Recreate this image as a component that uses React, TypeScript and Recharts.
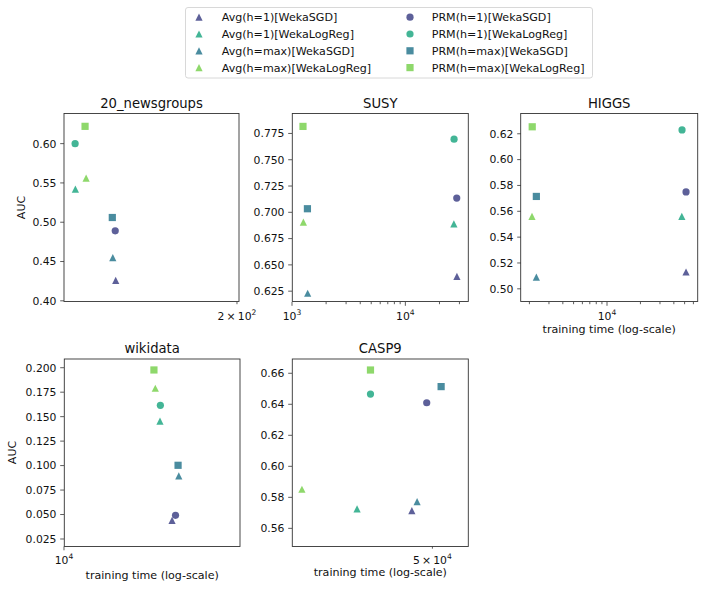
import React from "react";
import { ScatterChart, Scatter, XAxis, YAxis } from "recharts";

// series order: 4 Avg variants (triangles) then PRM variants
const seriesNames = [
  "Avg(h=1)[WekaSGD]",
  "Avg(h=1)[WekaLogReg]",
  "Avg(h=max)[WekaSGD]",
  "Avg(h=max)[WekaLogReg]",
  "PRM(h=1)[WekaSGD]",
  "PRM(h=1)[WekaLogReg]",
  "PRM(h=max)[WekaSGD]",
  "PRM(h=max)[WekaLogReg]",
];
const seriesColors = ["#414487", "#22a884", "#2a788e", "#7ad151", "#414487", "#22a884", "#2a788e", "#7ad151"];
const seriesShapes = ["triangle", "triangle", "triangle", "triangle", "circle", "circle", "square", "square"];

// training time (seconds) and AUC per dataset, in series order
const newsTime = [139.8, 124.1, 138.6, 128.1, 139.6, 124.0, 138.4, 127.7];
const newsAuc = [0.426, 0.542, 0.455, 0.556, 0.489, 0.6, 0.506, 0.622];

const susyTime = [28500, 26800, 1375, 1260, 28400, 26900, 1368, 1250];
const susyAuc = [0.639, 0.689, 0.623, 0.6906, 0.7135, 0.7696, 0.7034, 0.7817];

const higgsTime = [51500, 47200, 2310, 2110, 51500, 47400, 2310, 2120];
const higgsAuc = [0.513, 0.556, 0.509, 0.556, 0.575, 0.623, 0.5715, 0.6254];

const wikiTime = [14840, 14200, 15210, 13960, 15030, 14220, 15170, 13890];
const wikiAuc = [0.0441, 0.1455, 0.0894, 0.179, 0.0492, 0.1616, 0.1003, 0.1977];

const caspTime = [48570, 44950, 48930, 41580, 49600, 45810, 50620, 45810];
const caspAuc = [0.5714, 0.5726, 0.5772, 0.5852, 0.641, 0.6466, 0.6514, 0.6621];

// tick values
const newsXTicks = [200];
const susyXTicks = [1000, 2000, 3000, 4000, 5000, 6000, 7000, 8000, 9000, 10000, 20000, 30000];
const higgsXTicks = [2000, 3000, 4000, 5000, 6000, 7000, 8000, 9000, 10000, 20000, 30000, 40000, 50000, 60000];
const wikiXTicks = [10000];
const caspXTicks = [50000];

const newsXLabels = [200];
const susyXLabels = [1000, 10000];
const higgsXLabels = [10000];
const wikiXLabels = [10000];
const caspXLabels = [50000];

const newsYTicks = [0.4, 0.45, 0.5, 0.55, 0.6];
const susyYTicks = [0.625, 0.65, 0.675, 0.7, 0.725, 0.75, 0.775];
const higgsYTicks = [0.5, 0.52, 0.54, 0.56, 0.58, 0.6, 0.62];
const wikiYTicks = [0.025, 0.05, 0.075, 0.1, 0.125, 0.15, 0.175, 0.2];
const caspYTicks = [0.56, 0.58, 0.6, 0.62, 0.64, 0.66];

const FONT = "DejaVu Sans, sans-serif";
const TXT = "#111";

type PanelSpec = {
  title: string;
  time: number[];
  auc: number[];
  xTicks: number[];
  xLabels: number[];
  yTicks: number[];
  digits: number;
  xDomain: [number, number];
  yDomain: [number, number];
  box: [number, number, number, number];
};

const panels: PanelSpec[] = [
  { title: "20_newsgroups", time: newsTime, auc: newsAuc, xTicks: newsXTicks, xLabels: newsXLabels, yTicks: newsYTicks, digits: 2, xDomain: [120, 201.2], yDomain: [0.3985, 0.6377], box: [64, 113.5, 239, 301.5] },
  { title: "SUSY", time: susyTime, auc: susyAuc, xTicks: susyXTicks, xLabels: susyXLabels, yTicks: susyYTicks, digits: 3, xDomain: [1000, 35700], yDomain: [0.6147, 0.7935], box: [292.3, 113.5, 468.3, 301.5] },
  { title: "HIGGS", time: higgsTime, auc: higgsAuc, xTicks: higgsXTicks, xLabels: higgsXLabels, yTicks: higgsYTicks, digits: 2, xDomain: [1680, 66000], yDomain: [0.4898, 0.6353], box: [520.7, 113.5, 697.7, 301.5] },
  { title: "wikidata", time: wikiTime, auc: wikiAuc, xTicks: wikiXTicks, xLabels: wikiXLabels, yTicks: wikiYTicks, digits: 3, xDomain: [10000, 19000], yDomain: [0.01734, 0.2089], box: [64.3, 359, 240, 546.5] },
  { title: "CASP9", time: caspTime, auc: caspAuc, xTicks: caspXTicks, xLabels: caspXLabels, yTicks: caspYTicks, digits: 2, xDomain: [41000, 52580], yDomain: [0.5483, 0.6692], box: [292.3, 359, 468.3, 546.5] },
];

function Marker({ cx, cy, kind, color }: { cx: number; cy: number; kind: string; color: string }) {
  const s = 3.6;
  if (cx == null || cy == null) return null;
  if (kind === "circle") return <circle cx={cx} cy={cy} r={s} fill={color} fillOpacity={0.85} />;
  if (kind === "square")
    return <rect x={cx - s} y={cy - s} width={2 * s} height={2 * s} fill={color} fillOpacity={0.85} />;
  return <path d={`M${cx},${cy - s}L${cx + s},${cy + s}L${cx - s},${cy + s}Z`} fill={color} fillOpacity={0.85} />;
}

function sciParts(v: number): [string, string] {
  const e = Math.floor(Math.log10(v) + 1e-9);
  const m = Math.round(v / Math.pow(10, e));
  return [m === 1 ? "10" : `${m}\u2009\u00d7\u200910`, String(e)];
}

function XTick(props: any) {
  const { x, y, payload, labels } = props;
  const v = payload.value;
  const [pre, exp] = sciParts(v);
  const major = pre === "10";
  return (
    <g>
      <line x1={x} x2={x} y1={y} y2={y + (major ? 3.8 : 2.2)} stroke="#333" strokeWidth={0.8} />
      {labels.includes(v) && (
        <text x={x} y={y + 17.5} textAnchor="middle" fontSize={10.8} fontFamily={FONT} fill={TXT}>
          <tspan>{pre}</tspan>
          <tspan dy={-5} fontSize={7.6}>{exp}</tspan>
        </text>
      )}
    </g>
  );
}

function YTick(props: any) {
  const { x, y, payload, digits } = props;
  return (
    <g>
      <line x1={x - 3.8} x2={x} y1={y} y2={y} stroke="#333" strokeWidth={0.8} />
      <text x={x - 7.5} y={y} dy="0.36em" textAnchor="end" fontSize={10.8} fontFamily={FONT} fill={TXT}>
        {payload.value.toFixed(digits)}
      </text>
    </g>
  );
}

function Panel({ p }: { p: PanelSpec }) {
  const [x0, y0, x1, y1] = p.box;
  const W = x1 - x0 + 60 + 25;
  const H = y1 - y0 + 25 + 45;
  return (
    <div style={{ position: "absolute", left: x0 - 60, top: y0 - 25 }}>
      <ScatterChart width={W} height={H} margin={{ top: 25, right: 25, bottom: 0, left: 0 }}>
        <XAxis
          type="number"
          dataKey="x"
          scale="log"
          domain={p.xDomain}
          allowDataOverflow
          ticks={p.xTicks}
          interval={0}
          tickLine={false}
          axisLine={false}
          tickSize={0}
          tickMargin={0}
          height={45}
          tick={(t: any) => <XTick {...t} labels={p.xLabels} />}
        />
        <YAxis
          type="number"
          dataKey="y"
          domain={p.yDomain}
          allowDataOverflow
          ticks={p.yTicks}
          interval={0}
          tickLine={false}
          axisLine={false}
          tickSize={0}
          tickMargin={0}
          width={60}
          tick={(t: any) => <YTick {...t} digits={p.digits} />}
        />
        {seriesNames.map((name, i) => (
          <Scatter
            key={name}
            name={name}
            data={[{ x: p.time[i], y: p.auc[i] }]}
            fill={seriesColors[i]}
            isAnimationActive={false}
            shape={(s: any) => <Marker cx={s.cx} cy={s.cy} kind={seriesShapes[i]} color={seriesColors[i]} />}
          />
        ))}
      </ScatterChart>
    </div>
  );
}

const legendRows = [17.2, 34.0, 50.8, 67.6];

export default function App() {
  return (
    <div style={{ position: "absolute", left: 0, top: 0, width: 709, height: 589, background: "#fff", fontFamily: FONT }}>
      {panels.map((p) => (
        <Panel key={p.title} p={p} />
      ))}
      <svg width={709} height={589} style={{ position: "absolute", left: 0, top: 0, pointerEvents: "none" }}>
        {panels.map((p) => {
          const [x0, y0, x1, y1] = p.box;
          return (
            <g key={p.title}>
              <rect x={x0} y={y0} width={x1 - x0} height={y1 - y0} fill="none" stroke="#333" strokeWidth={0.9} />
              <text x={(x0 + x1) / 2} y={y0 - 6} textAnchor="middle" fontSize={13.2} fontFamily={FONT} fill={TXT}>
                {p.title}
              </text>
            </g>
          );
        })}
        <text transform="translate(21,207.5) rotate(-90)" textAnchor="middle" dy="0.36em" fontSize={11} fontFamily={FONT} fill={TXT}>
          AUC
        </text>
        <text transform="translate(12.5,452.5) rotate(-90)" textAnchor="middle" dy="0.36em" fontSize={11} fontFamily={FONT} fill={TXT}>
          AUC
        </text>
        <text x={609.2} y={332.5} textAnchor="middle" fontSize={11.1} fontFamily={FONT} fill={TXT}>
          training time (log-scale)
        </text>
        <text x={152.2} y={578.5} textAnchor="middle" fontSize={11.1} fontFamily={FONT} fill={TXT}>
          training time (log-scale)
        </text>
        <text x={380.3} y={576} textAnchor="middle" fontSize={11.1} fontFamily={FONT} fill={TXT}>
          training time (log-scale)
        </text>
        <rect x={185.5} y={7.5} width={407} height={70.5} rx={2.5} fill="#fff" fillOpacity={0.8} stroke="#d4d4d4" strokeWidth={0.9} />
        {seriesNames.map((name, i) => {
          const col = i < 4 ? 0 : 1;
          const ry = legendRows[i % 4];
          const mx = col === 0 ? 199 : 410;
          const tx = col === 0 ? 221.7 : 431.7;
          return (
            <g key={name}>
              <Marker cx={mx} cy={ry} kind={seriesShapes[i]} color={seriesColors[i]} />
              <text x={tx} y={ry} dy="0.36em" fontSize={11.1} fontFamily={FONT} fill={TXT}>
                {name}
              </text>
            </g>
          );
        })}
      </svg>
    </div>
  );
}
